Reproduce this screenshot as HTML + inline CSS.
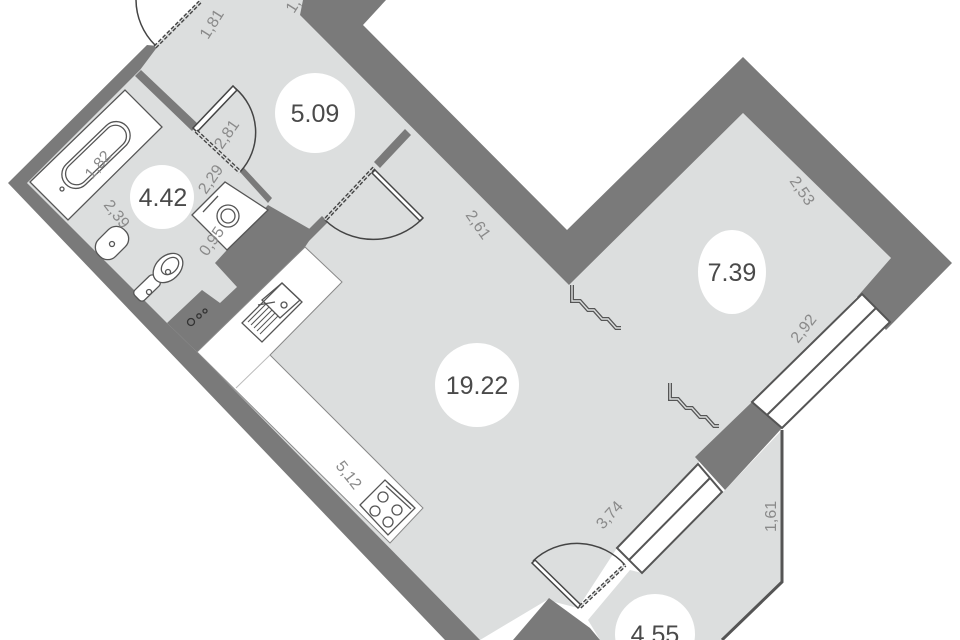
<!DOCTYPE html>
<html><head><meta charset="utf-8"><style>
html,body{margin:0;padding:0;background:#fff;overflow:hidden;width:960px;height:640px;}
svg{display:block;}
.d{font-family:"Liberation Sans",sans-serif;font-size:16px;fill:#8a8a8a;}
.n{font-family:"Liberation Sans",sans-serif;font-size:25px;fill:#4a4a4a;text-anchor:middle;}
</style></head><body>
<svg width="960" height="640" viewBox="0 0 960 640" xmlns="http://www.w3.org/2000/svg">
<rect width="960" height="640" fill="#fff"/>
<polygon fill="#dcdede" points="27,183 140,70 155,47 200,0 305,0 569,285 743,113 891,258 857,297 617,548 578,608 547,600 480,640 445,640 160,322"/>
<polygon fill="#dcdede" points="588,620 630,570 642,573 725,490 782,430 782,582 722,640 600,640"/>
<polygon fill="#7a7a7a" points="8,183 147,45 158,46 140,70 27,183 167,323 197,352 480,640 445,640"/>
<polygon fill="#7a7a7a" points="303,0 386,0 363,25 567,230 743,57 952,263 886,330 857,297 891,258 743,113 569,285 300,15"/>
<polygon fill="#7a7a7a" points="695,457 752,402 782,428 725,490"/>
<polygon fill="#7a7a7a" points="549,598 590,628 600,640 513,640"/>
<polygon fill="#7a7a7a" points="268,205 315,232 305,247 197,352 167,323 202,290 220,303 237,287 215,263"/>
<polygon fill="#7a7a7a" points="135,76 141,70 198,124 192,131"/>
<polygon fill="#7a7a7a" points="240,172 244,168 272,198 268,203"/>
<polygon fill="#7a7a7a" points="405,129 411,135 380,168 374,162"/>
<polygon fill="#7a7a7a" points="322,216 328,222 307,243 301,237"/>
<g fill="none" stroke="#333" stroke-width="1.3"><circle cx="191" cy="322" r="3.5"/><circle cx="199" cy="316" r="2.2"/><circle cx="205" cy="311" r="2"/></g>
<g stroke="#555" stroke-width="2" fill="#fff">
<polygon points="752,402 862,294 890,322 782,428"/>
<polygon points="617,548 698,464 722,492 642,573"/>
</g>
<g stroke="#555" stroke-width="2" fill="none">
<line x1="767" y1="415" x2="876" y2="308"/>
<line x1="629" y1="560" x2="710" y2="478"/>
</g>
<polyline points="782,430 782,582 722,640" fill="none" stroke="#555" stroke-width="3"/>
<g fill="none" stroke="#444" stroke-width="1.5">
<path d="M155,45 A64,64 0 0 1 136,0"/>
<line x1="155" y1="47" x2="200" y2="2" stroke-dasharray="4,2" stroke-width="4"/>
<line x1="155" y1="47" x2="200" y2="2" stroke="#dcdede" stroke-width="1.2"/>
<polygon points="193,128 233,86 237,90 197,132" fill="#fff"/>
<path d="M235,88 A58,58 0 0 1 240,172"/>
<line x1="196" y1="131" x2="240" y2="172" stroke-dasharray="4,2" stroke-width="4"/>
<line x1="196" y1="131" x2="240" y2="172" stroke="#dcdede" stroke-width="1.2"/>
<polygon points="375,170 423,218 420,221 372,173" fill="#fff"/>
<path d="M422,219 A69,69 0 0 1 325,220"/>
<line x1="374" y1="168" x2="325" y2="220" stroke-dasharray="4,2" stroke-width="4"/>
<line x1="374" y1="168" x2="325" y2="220" stroke="#dcdede" stroke-width="1.2"/>
<polygon points="578,608 532,563 535,560 581,605" fill="#fff"/>
<path d="M533,561 A64,64 0 0 1 625,565"/>
<line x1="580" y1="607" x2="625" y2="565" stroke-dasharray="4,2" stroke-width="4"/>
<line x1="580" y1="607" x2="625" y2="565" stroke="#dcdede" stroke-width="1.2"/>
</g>
<g fill="none" stroke-linejoin="miter">
<polyline points="572,285 572,301 580,301 588,310 594,310 602,319 608,319 616,328 621,328" stroke="#555" stroke-width="4"/>
<polyline points="572,285 572,301 580,301 588,310 594,310 602,319 608,319 616,328 621,328" stroke="#dcdede" stroke-width="1.4"/>
<polyline points="670,383 670,399 678,399 686,408 692,408 700,417 706,417 714,426 719,426" stroke="#555" stroke-width="4"/>
<polyline points="670,383 670,399 678,399 686,408 692,408 700,417 706,417 714,426 719,426" stroke="#dcdede" stroke-width="1.4"/>
</g>
<polygon points="197,352 305,247 342,282 270,355 423,508 390,543" fill="#fff" stroke="#888" stroke-width="1"/>
<line x1="236" y1="388" x2="270" y2="355" stroke="#bbb"/>
<g fill="none" stroke="#555" stroke-width="1.3">
<polygon points="242,323 282,283 302,302 262,342"/>
<polygon points="262,300 282,283 300,300 280,318"/>
<circle cx="284" cy="305" r="3"/>
<line x1="258" y1="305" x2="275" y2="302"/>
<g stroke-width="1"><line x1="248" y1="322" x2="266" y2="304"/><line x1="251" y1="325" x2="269" y2="307"/><line x1="254" y1="328" x2="272" y2="310"/><line x1="257" y1="331" x2="275" y2="313"/><line x1="260" y1="334" x2="278" y2="316"/></g>
<polygon points="360,505 385,480 415,508 388,535"/>
<line x1="388" y1="483" x2="413" y2="506"/><line x1="386" y1="486" x2="411" y2="509"/>
<circle cx="383" cy="497" r="5"/><circle cx="397" cy="510" r="5"/><circle cx="375" cy="511" r="5"/><circle cx="388" cy="522" r="5"/>
<polygon points="30,182 125,90 162,127 68,220" fill="#fff"/>
<rect x="-42" y="-14" width="84" height="28" rx="14" transform="translate(96,155) rotate(-44)"/>
<rect x="-38" y="-11" width="76" height="22" rx="11" transform="translate(96,155) rotate(-44)"/>
<circle cx="62" cy="189" r="2"/>
<rect x="-18" y="-12" width="36" height="24" rx="11" fill="#fff" transform="translate(112,243) rotate(-45)"/>
<circle cx="112" cy="244" r="2.5"/>
<rect x="-14" y="-7" width="28" height="14" rx="4" fill="#fff" transform="translate(147,288) rotate(-44)"/>
<ellipse cx="168" cy="268" rx="17" ry="12" fill="#fff" transform="rotate(-44 168 268)"/>
<ellipse cx="170" cy="266" rx="10" ry="7" transform="rotate(-44 170 266)"/>
<circle cx="149" cy="292" r="2.5"/><circle cx="168" cy="272" r="2.5"/>
<polygon points="192,215 225,182 268,210 227,250" fill="#fff"/>
<circle cx="228" cy="216" r="11"/><circle cx="228" cy="216" r="7"/>
<line x1="203" y1="212" x2="218" y2="196"/>
</g>
<g fill="#fff">
<circle cx="315" cy="113" r="40"/><circle cx="162" cy="197" r="32"/><circle cx="477" cy="385" r="42"/>
<ellipse cx="732" cy="272" rx="34" ry="42"/><circle cx="655" cy="634" r="40"/>
</g>
<text class="n" x="315" y="122">5.09</text>
<text class="n" x="163" y="206">4.42</text>
<text class="n" x="477" y="394">19.22</text>
<text class="n" x="732" y="281">7.39</text>
<text class="n" x="655" y="643">4.55</text>
<g class="d">
<text transform="translate(208,40) rotate(-58)">1,81</text>
<text transform="translate(294,14) rotate(-58)">1,</text>
<text transform="translate(92,180) rotate(-50)">1,82</text>
<text transform="translate(222,150) rotate(-55)">2,81</text>
<text transform="translate(206,195) rotate(-55)">2,29</text>
<text transform="translate(103,205) rotate(52)">2,39</text>
<text transform="translate(207,257) rotate(-55)">0,95</text>
<text transform="translate(465,215) rotate(55)">2,61</text>
<text transform="translate(789,181) rotate(55)">2,53</text>
<text transform="translate(798,344) rotate(-52)">2,92</text>
<text transform="translate(603,530) rotate(-48)">3,74</text>
<text transform="translate(776,532) rotate(-90)">1,61</text>
<text transform="translate(335,466) rotate(52)">5,12</text>
</g>
</svg>
</body></html>
